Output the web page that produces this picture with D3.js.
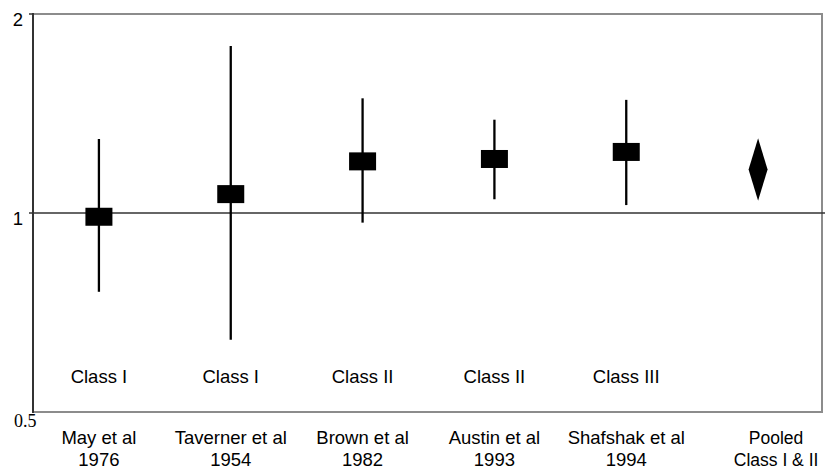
<!DOCTYPE html>
<html>
<head>
<meta charset="utf-8">
<script src="https://cdn.jsdelivr.net/npm/d3@7"></script>
<style>
    body { margin: 0; background: #fff; }
    svg text { font-family: "Liberation Sans", Arial, sans-serif; fill: #000; }
    svg text.serif { font-family: "Liberation Serif", "Times New Roman", serif; }
</style>
</head>
<body>
<div id="chart"></div>
<script>
// studies, in plot order
var studies = ["May et al|1976", "Taverner et al|1954", "Brown et al|1982",
    "Austin et al|1993", "Shafshak et al|1994", "Pooled|Class I & II"];
var classes = ["Class I", "Class I", "Class II", "Class II", "Class III", ""];
var estimate = [0.987, 1.068, 1.197, 1.207, 1.237, 1.164];
var lower = [0.760, 0.643, 0.967, 1.049, 1.028, 1.044];
var upper = [1.294, 1.789, 1.491, 1.384, 1.483, 1.297];
var yTicks = [2, 1];

var width = 825,
    height = 469;

var svg = d3.select("#chart").append("svg")
    .attr("width", width)
    .attr("height", height);

var x = d3.scaleBand().domain(studies).range([33, 824]);
var y = d3.scaleLog().domain([0.5, 2]).range([412, 14]);

var xc = function (d) { return x(d) + x.bandwidth() / 2; };

// frame
svg.append("path")
    .attr("d", "M33,14H822V412H33")
    .attr("fill", "none")
    .attr("stroke", "#8c8c8c")
    .attr("stroke-width", 2);

svg.append("line")
    .attr("x1", 33).attr("x2", 33)
    .attr("y1", 13).attr("y2", 413)
    .attr("stroke", "#333")
    .attr("stroke-width", 2);

// y ticks
svg.selectAll(".ytick")
    .data(yTicks)
    .enter().append("line")
    .attr("class", "ytick")
    .attr("x1", 29).attr("x2", 33)
    .attr("y1", function (d) { return y(d); })
    .attr("y2", function (d) { return y(d); })
    .attr("stroke", "#333")
    .attr("stroke-width", 1.5);

svg.selectAll(".ylab")
    .data(yTicks)
    .enter().append("text")
    .attr("class", "ylab")
    .attr("x", 23)
    .attr("y", function (d) { return y(d) + 12; })
    .attr("text-anchor", "end")
    .style("font-size", "18.5px")
    .text(function (d) { return d; });

// bottom value is drawn in a serif face in the original
svg.append("text")
    .attr("class", "serif")
    .attr("x", 14)
    .attr("y", y(0.5) + 15)
    .style("font-size", "18px")
    .text("0.5");

// line of no effect
svg.append("line")
    .attr("x1", 33).attr("x2", 825)
    .attr("y1", y(1)).attr("y2", y(1))
    .attr("stroke", "#333")
    .attr("stroke-width", 1.5);

var rows = studies.map(function (s, i) {
    return { study: s, cls: classes[i], est: estimate[i], lo: lower[i], hi: upper[i] };
});
var single = rows.slice(0, 5);
var pooled = rows.slice(5);

// confidence intervals
svg.selectAll(".ci")
    .data(single)
    .enter().append("line")
    .attr("class", "ci")
    .attr("x1", function (d) { return xc(d.study); })
    .attr("x2", function (d) { return xc(d.study); })
    .attr("y1", function (d) { return y(d.hi); })
    .attr("y2", function (d) { return y(d.lo); })
    .attr("stroke", "#000")
    .attr("stroke-width", 2.3);

svg.selectAll(".est")
    .data(single)
    .enter().append("rect")
    .attr("class", "est")
    .attr("x", function (d) { return xc(d.study) - 13.5; })
    .attr("y", function (d) { return y(d.est) - 9; })
    .attr("width", 27)
    .attr("height", 18)
    .attr("fill", "#000");

// pooled estimate
svg.selectAll(".pooled")
    .data(pooled)
    .enter().append("path")
    .attr("class", "pooled")
    .attr("d", function (d) {
        var cx = xc(d.study);
        return "M" + cx + "," + y(d.hi) + "L" + (cx + 9.5) + "," + y(d.est) +
            "L" + cx + "," + y(d.lo) + "L" + (cx - 9.5) + "," + y(d.est) + "Z";
    })
    .attr("fill", "#000");

// class labels inside the plot
svg.selectAll(".cls")
    .data(single)
    .enter().append("text")
    .attr("class", "cls")
    .attr("x", function (d) { return xc(d.study); })
    .attr("y", 383)
    .attr("text-anchor", "middle")
    .style("font-size", "18.5px")
    .text(function (d) { return d.cls; });

// study labels (the pooled one sits a little right, but must stay in the window)
var xl = svg.selectAll(".xlab")
    .data(rows)
    .enter().append("text")
    .attr("class", "xlab")
    .attr("text-anchor", "middle")
    .style("font-size", function (d) { return d.cls === "" ? "17.5px" : "18.5px"; });

xl.selectAll("tspan")
    .data(function (d) {
        var cx = xc(d.study) + (d.cls === "" ? 18 : 0);
        return d.study.split("|").map(function (t) { return { t: t, x: cx }; });
    })
    .enter().append("tspan")
    .attr("x", function (d) { return d.x; })
    .attr("y", function (d, i) { return 444 + i * 22; })
    .text(function (d) { return d.t; });
</script>
</body>
</html>
